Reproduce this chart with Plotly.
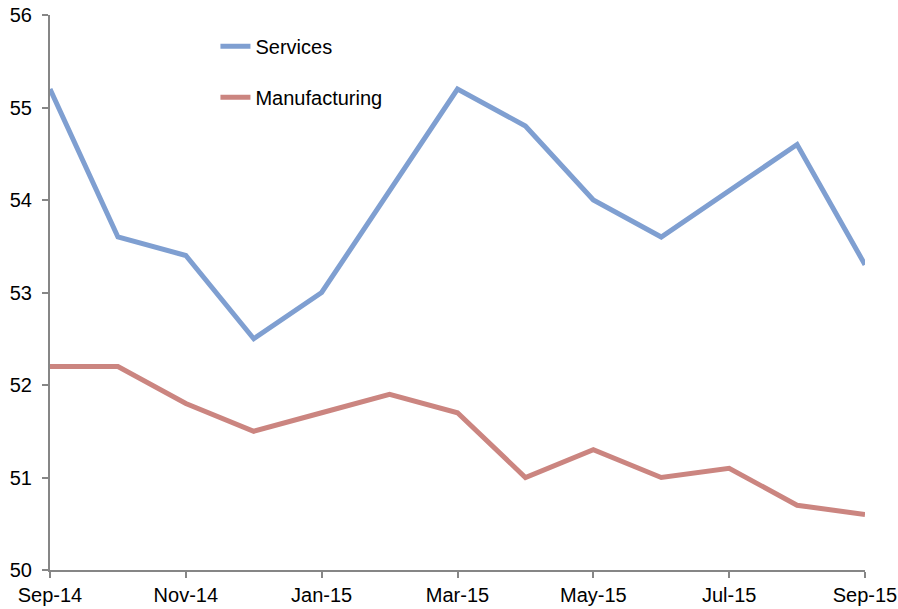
import plotly.graph_objects as go

months = ["Sep-14", "Oct-14", "Nov-14", "Dec-14", "Jan-15", "Feb-15", "Mar-15",
          "Apr-15", "May-15", "Jun-15", "Jul-15", "Aug-15", "Sep-15"]
services = [55.2, 53.6, 53.4, 52.5, 53.0, 54.1, 55.2, 54.8, 54.0, 53.6, 54.1, 54.6, 53.3]
manufacturing = [52.2, 52.2, 51.8, 51.5, 51.7, 51.9, 51.7, 51.0, 51.3, 51.0, 51.1, 50.7, 50.6]

x = list(range(len(months)))
tick_idx = x[::2]
tick_text = [months[i] for i in tick_idx]

fig = go.Figure()
fig.add_trace(go.Scatter(x=x, y=services, mode="lines", name="Services",
                         legendgroup="s",
                         line=dict(color="#7F9FD1", width=5)))
fig.add_trace(go.Scatter(x=x, y=manufacturing, mode="lines", name="Manufacturing",
                         legendgroup="m",
                         line=dict(color="#CB8580", width=5)))

fig.update_layout(
    width=898, height=609,
    margin=dict(l=50, r=33, t=15, b=39),
    plot_bgcolor="white", paper_bgcolor="white",
    font=dict(family="Liberation Sans, Arial, sans-serif", size=20, color="#000000"),
    showlegend=True,
    legend=dict(x=0.203, y=0.979, xanchor="left", yanchor="top",
                bgcolor="rgba(0,0,0,0)", tracegroupgap=22,
                font=dict(size=20)),
    xaxis=dict(range=[0, 12], tickvals=tick_idx, ticktext=tick_text,
               showgrid=False, zeroline=False, showline=True, automargin=False,
               linecolor="#868686", linewidth=2, ticks="outside",
               tickcolor="#868686", ticklen=6, tickwidth=2),
    yaxis=dict(range=[50, 56], dtick=1, showgrid=False, zeroline=False,
               showline=True, automargin=False, linecolor="#868686", linewidth=2,
               ticks="outside", tickcolor="#868686", ticklen=6, tickwidth=2,
               ticklabelstandoff=6),
)

fig.write_html("out.html")
